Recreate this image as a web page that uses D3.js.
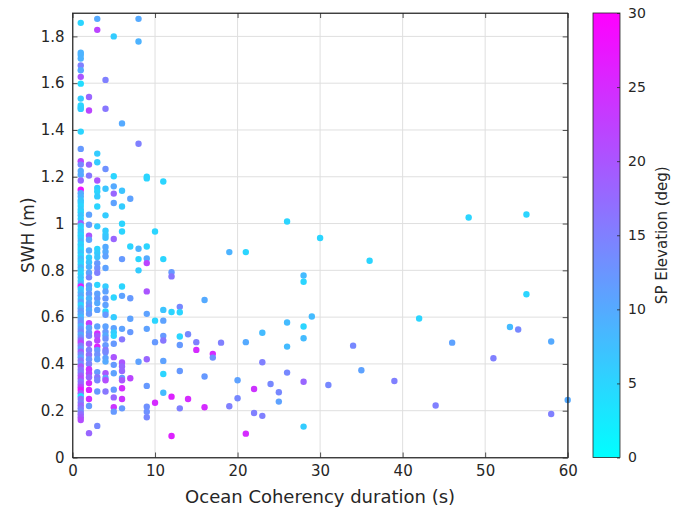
<!DOCTYPE html>
<html>
<head>
<meta charset="utf-8">
<script src="https://cdn.jsdelivr.net/npm/d3@7"></script>
<style>
  body { margin: 0; background: #fff; }
  text { font-family: "DejaVu Sans", sans-serif; fill: #262626; }
</style>
</head>
<body>
<svg id="chart" width="681" height="510"></svg>
<script>
// axis ticks
const xTicks = [0, 10, 20, 30, 40, 50, 60];
const yTicks = [0, 0.2, 0.4, 0.6, 0.8, 1, 1.2, 1.4, 1.6, 1.8];
const cTicks = [0, 5, 10, 15, 20, 25, 30];

// [coherency duration (s), SWH (m), SP elevation (deg)]
const samples = [
  // 1 s
  [1,1.858,5],[1,1.73,9],[1,1.72,9],[1,1.705,9],[1,1.676,15],[1,1.655,10],[1,1.627,20],[1,1.598,4],
  [1,1.534,6],[1,1.505,5],[1,1.495,5],[1,1.49,6],[1,1.393,5],[1,1.319,12],[1,1.266,22],[1,1.252,14],
  [1,1.225,10],[1,1.209,10],[1,1.184,18],[1,1.145,28],[1,1.13,10],[1,1.116,9],[1,1.10,7],[1,1.089,6],
  [1,1.075,5],[1,1.06,6],[1,1.048,5],[1,1.035,7],[1,1.02,6],[1,1.002,19],[1,0.99,6],[1,0.975,5],
  [1,0.962,7],[1,0.95,5],[1,0.938,6],[1,0.925,8],[1,0.912,5],[1,0.90,6],[1,0.888,4],[1,0.875,7],
  [1,0.862,5],[1,0.85,8],[1,0.838,6],[1,0.825,5],[1,0.812,9],[1,0.80,6],[1,0.785,5],[1,0.77,7],
  [1,0.755,6],[1,0.742,9],[1,0.731,27],[1,0.72,6],[1,0.705,8],[1,0.692,10],[1,0.678,7],[1,0.665,11],
  [1,0.652,5],[1,0.638,9],[1,0.625,12],[1,0.612,10],[1,0.60,8],[1,0.588,11],[1,0.575,13],[1,0.562,9],
  [1,0.55,12],[1,0.538,14],[1,0.525,10],[1,0.512,13],[1,0.50,18],[1,0.49,22],[1,0.478,15],[1,0.465,12],
  [1,0.452,19],[1,0.44,14],[1,0.428,11],[1,0.415,16],[1,0.40,13],[1,0.389,20],[1,0.375,17],[1,0.362,15],
  [1,0.35,19],[1,0.338,21],[1,0.325,16],[1,0.312,18],[1,0.30,22],[1,0.289,27],[1,0.275,19],[1,0.262,4],
  [1,0.25,17],[1,0.235,15],[1,0.222,18],[1,0.21,16],[1,0.197,14],[1,0.185,17],[1,0.172,19],[1,0.16,21],
  // 2 s
  [2,1.541,18],[2,1.483,22],[2,1.252,18],[2,1.205,16],[2,1.038,11],[2,0.995,12],[2,0.948,20],[2,0.931,11],
  [2,0.885,10],[2,0.855,6],[2,0.835,7],[2,0.815,9],[2,0.79,11],[2,0.77,14],[2,0.735,12],[2,0.72,10],
  [2,0.70,12],[2,0.68,9],[2,0.66,11],[2,0.645,13],[2,0.631,10],[2,0.614,12],[2,0.574,23],[2,0.555,11],
  [2,0.534,12],[2,0.52,14],[2,0.486,19],[2,0.46,15],[2,0.439,17],[2,0.42,13],[2,0.40,15],[2,0.377,24],
  [2,0.36,22],[2,0.343,18],[2,0.318,25],[2,0.289,26],[2,0.25,25],[2,0.22,12],[2,0.104,18],
  // 3 s
  [3,1.875,10],[3,1.828,22],[3,1.299,6],[3,1.262,6],[3,1.184,20],[3,1.152,6],[3,1.137,5],[3,1.116,6],
  [3,1.073,5],[3,0.988,6],[3,0.891,5],[3,0.874,6],[3,0.857,7],[3,0.83,12],[3,0.81,13],[3,0.79,15],
  [3,0.738,5],[3,0.70,11],[3,0.68,12],[3,0.66,10],[3,0.631,11],[3,0.56,11],[3,0.53,25],[3,0.52,20],
  [3,0.50,22],[3,0.474,26],[3,0.46,12],[3,0.44,13],[3,0.42,11],[3,0.365,12],[3,0.343,16],[3,0.33,14],
  [3,0.282,12],[3,0.135,14],
  // 4 s
  [4,1.614,15],[4,1.491,16],[4,1.233,13],[4,1.149,7],[4,1.035,6],[4,0.969,6],[4,0.952,6],[4,0.939,7],
  [4,0.90,10],[4,0.88,10],[4,0.86,11],[4,0.81,11],[4,0.731,6],[4,0.71,11],[4,0.68,12],[4,0.652,11],
  [4,0.624,5],[4,0.61,12],[4,0.56,11],[4,0.537,12],[4,0.522,10],[4,0.508,13],[4,0.48,12],[4,0.46,16],
  [4,0.45,14],[4,0.426,11],[4,0.41,10],[4,0.36,20],[4,0.34,11],[4,0.33,21],[4,0.282,16],
  // 5 s
  [5,1.80,6],[5,1.202,5],[5,1.159,10],[5,1.128,18],[5,1.088,11],[5,0.934,18],[5,0.684,5],[5,0.60,6],
  [5,0.553,11],[5,0.535,6],[5,0.52,5],[5,0.486,12],[5,0.429,20],[5,0.396,12],[5,0.36,11],[5,0.29,12],
  [5,0.257,18],[5,0.215,24],[5,0.196,12],
  // 6 s
  [6,1.428,10],[6,1.14,7],[6,1.073,6],[6,0.999,5],[6,0.966,5],[6,0.848,12],[6,0.731,5],[6,0.691,11],
  [6,0.55,11],[6,0.505,16],[6,0.406,20],[6,0.389,18],[6,0.37,18],[6,0.34,12],[6,0.33,20],[6,0.296,25],
  [6,0.25,24],[6,0.21,12],
  // 7-9 s
  [7,1.106,11],[7,0.902,5],[7,0.681,12],[7,0.593,11],[7,0.536,12],[7,0.339,22],
  [8,1.875,10],[8,1.778,9],[8,1.341,15],[8,0.892,9],[8,0.848,5],[8,0.80,6],[8,0.409,11],
  [9,1.20,5],[9,1.193,5],[9,0.902,5],[9,0.851,10],[9,0.831,22],[9,0.71,20],[9,0.614,11],[9,0.55,11],
  [9,0.42,18],[9,0.306,12],[9,0.217,13],[9,0.196,13],[9,0.172,14],
  // 10-19 s
  [10,0.966,5],[10,0.585,5],[10,0.493,12],[10,0.234,25],
  [11,1.18,5],[11,0.848,5],[11,0.631,7],[11,0.585,11],[11,0.52,12],[11,0.50,16],[11,0.413,11],[11,0.357,5],[11,0.277,8],
  [12,0.792,12],[12,0.774,16],[12,0.622,5],[12,0.26,26],[12,0.092,26],
  [13,0.644,14],[13,0.621,5],[13,0.517,5],[13,0.481,12],[13,0.37,12],[13,0.21,15],
  [14,0.527,14],[14,0.25,25],[15,0.493,15],[15,0.46,25],
  [16,0.673,10],[16,0.346,12],[16,0.215,25],[17,0.443,25],[17,0.427,13],[18,0.491,15],
  [19,0.878,9],[19,0.219,15],
  // 20+ s
  [20,0.33,11],[20,0.253,14],[21,0.878,5],[21,0.493,10],[21,0.102,25],[22,0.293,24],[22,0.19,15],
  [23,0.533,8],[23,0.407,15],[23,0.178,15],[24,0.314,14],[25,0.279,14],[25,0.239,11],
  [26,1.009,5],[26,0.577,8],[26,0.474,8],[26,0.363,14],
  [28,0.778,8],[28,0.751,5],[28,0.56,5],[28,0.51,8],[28,0.324,18],[28,0.132,6],
  [29,0.603,8],[30,0.938,5],[31,0.31,14],[34,0.478,14],[35,0.373,11],[36,0.841,5],[39,0.327,15],
  [42,0.594,5],[44,0.222,15],[46,0.491,11],[48,1.026,5],[51,0.424,15],[53,0.558,8],[54,0.547,14],
  [55,1.039,5],[55,0.698,5],[58,0.496,10],[58,0.186,15],[60,0.246,10]
];

const svg = d3.select("#chart");
const plotLeft = 72.5, plotRight = 567.7, plotTop = 13, plotBottom = 457.5;
const cbLeft = 593, cbRight = 620;

const x = d3.scaleLinear().domain([0, 60]).range([plotLeft, plotRight]);
const y = d3.scaleLinear().domain([0, 1.9]).range([plotBottom, plotTop]);
const cy = d3.scaleLinear().domain([0, 30]).range([plotBottom, plotTop]);
const color = d3.scaleLinear().domain([0, 30]).range(["#00ffff", "#ff00ff"])
    .interpolate(d3.interpolateRgb).clamp(true);

// grid
const grid = svg.append("g").attr("stroke", "#dfdfdf").attr("stroke-width", 1);
grid.selectAll(".gx").data(xTicks.slice(1, -1)).enter().append("line")
    .attr("x1", d => x(d)).attr("x2", d => x(d)).attr("y1", plotTop).attr("y2", plotBottom);
grid.selectAll(".gy").data(yTicks.slice(1)).enter().append("line")
    .attr("y1", d => y(d)).attr("y2", d => y(d)).attr("x1", plotLeft).attr("x2", plotRight);

// points
svg.append("g").selectAll("circle")
    .data(samples)
    .enter().append("circle")
    .attr("cx", d => x(d[0]))
    .attr("cy", d => y(d[1]))
    .attr("r", 3.2)
    .attr("fill", d => color(d[2]));

// axes (inward ticks, box on)
const tickLen = 5;
svg.append("g").attr("transform", `translate(0,${plotBottom})`)
    .call(d3.axisBottom(x).tickValues(xTicks).tickSizeInner(-tickLen).tickSizeOuter(0).tickPadding(8));
svg.append("g").attr("transform", `translate(${plotLeft},0)`)
    .call(d3.axisLeft(y).tickValues(yTicks).tickSizeInner(-tickLen).tickSizeOuter(0).tickPadding(8)
        .tickFormat(d => d3.format("~g")(d)));
svg.append("g").attr("transform", `translate(0,${plotTop})`)
    .call(d3.axisTop(x).tickValues(xTicks).tickSizeInner(-tickLen).tickSizeOuter(0).tickFormat(""));
svg.append("g").attr("transform", `translate(${plotRight},0)`)
    .call(d3.axisRight(y).tickValues(yTicks).tickSizeInner(-tickLen).tickSizeOuter(0).tickFormat(""));

svg.selectAll(".domain").attr("stroke", "#262626").attr("stroke-width", 0.8);
svg.selectAll(".tick line").attr("stroke", "#262626").attr("stroke-width", 0.8);
svg.selectAll(".tick text").style("font-size", "15px").attr("fill", "#262626");
svg.append("rect").attr("x", plotLeft).attr("y", plotTop)
    .attr("width", plotRight - plotLeft).attr("height", plotBottom - plotTop)
    .attr("fill", "none").attr("stroke", "#262626").attr("stroke-width", 0.8);

svg.append("text").attr("x", (plotLeft + plotRight) / 2).attr("y", 503).attr("text-anchor", "middle")
    .style("font-size", "18px").text("Ocean Coherency duration (s)");
svg.append("text").attr("transform", `translate(34,${(plotTop + plotBottom) / 2}) rotate(-90)`)
    .attr("text-anchor", "middle").style("font-size", "17px").text("SWH (m)");

// colorbar
const defs = svg.append("defs");
const grad = defs.append("linearGradient").attr("id", "cool")
    .attr("x1", 0).attr("y1", 1).attr("x2", 0).attr("y2", 0);
grad.selectAll("stop").data(cTicks).enter().append("stop")
    .attr("offset", d => d / 30).attr("stop-color", d => color(d));
svg.append("rect").attr("x", cbLeft).attr("y", plotTop)
    .attr("width", cbRight - cbLeft).attr("height", plotBottom - plotTop)
    .attr("fill", "url(#cool)").attr("stroke", "#262626").attr("stroke-width", 0.8);
const cAxis = svg.append("g").attr("transform", `translate(${cbRight},0)`)
    .call(d3.axisRight(cy).tickValues(cTicks).tickSizeInner(-3).tickSizeOuter(0).tickPadding(8));
cAxis.select(".domain").remove();
cAxis.selectAll(".tick line").attr("stroke", "#262626").attr("stroke-width", 0.8);
cAxis.selectAll(".tick text").style("font-size", "14px").attr("fill", "#262626");
svg.append("text").attr("transform", `translate(667,${(plotTop + plotBottom) / 2}) rotate(-90)`)
    .attr("text-anchor", "middle").style("font-size", "15px").text("SP Elevation (deg)");
</script>
</body>
</html>
